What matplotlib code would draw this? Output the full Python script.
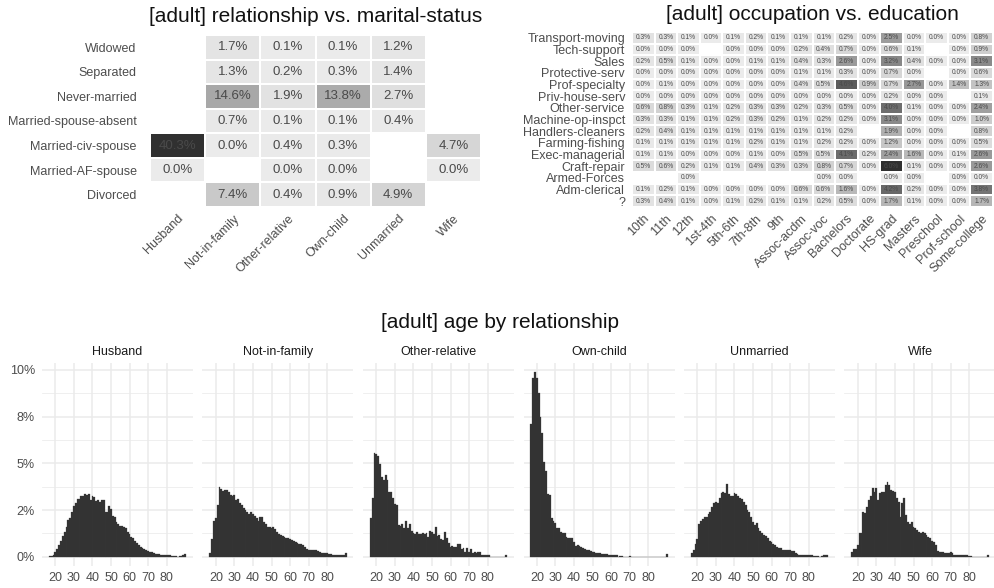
import numpy as np
import matplotlib
matplotlib.use('Agg')
import matplotlib.pyplot as plt
from matplotlib.colors import LinearSegmentedColormap
from matplotlib.ticker import FixedLocator

plt.rcParams['font.family'] = ['Liberation Sans', 'DejaVu Sans']

# ---------------- data: relationship vs marital-status (% of total) ----------------
relationships = ['Husband', 'Not-in-family', 'Other-relative', 'Own-child', 'Unmarried', 'Wife']
marital = ['Divorced', 'Married-AF-spouse', 'Married-civ-spouse', 'Married-spouse-absent',
           'Never-married', 'Separated', 'Widowed']  # bottom -> top
nan = np.nan
rm_divorced = [nan, 7.4, 0.4, 0.9, 4.9, nan]
rm_af_spouse = [0.0, nan, 0.0, 0.0, nan, 0.0]
rm_civ_spouse = [40.3, 0.0, 0.4, 0.3, nan, 4.7]
rm_spouse_absent = [nan, 0.7, 0.1, 0.1, 0.4, nan]
rm_never = [nan, 14.6, 1.9, 13.8, 2.7, nan]
rm_separated = [nan, 1.3, 0.2, 0.3, 1.4, nan]
rm_widowed = [nan, 1.7, 0.1, 0.1, 1.2, nan]

# ---------------- data: occupation vs education (% of total) ----------------
education = ['10th', '11th', '12th', '1st-4th', '5th-6th', '7th-8th', '9th', 'Assoc-acdm',
             'Assoc-voc', 'Bachelors', 'Doctorate', 'HS-grad', 'Masters', 'Preschool',
             'Prof-school', 'Some-college']
occupations = ['?', 'Adm-clerical', 'Armed-Forces', 'Craft-repair', 'Exec-managerial',
               'Farming-fishing', 'Handlers-cleaners', 'Machine-op-inspct', 'Other-service',
               'Priv-house-serv', 'Prof-specialty', 'Protective-serv', 'Sales',
               'Tech-support', 'Transport-moving']  # bottom -> top
oe_unknown = [0.3, 0.4, 0.1, 0.0, 0.1, 0.2, 0.1, 0.1, 0.2, 0.5, 0.0, 1.7, 0.1, 0.0, 0.0, 1.7]
oe_adm = [0.1, 0.2, 0.1, 0.0, 0.0, 0.0, 0.0, 0.6, 0.6, 1.6, 0.0, 4.2, 0.2, 0.0, 0.0, 3.8]
oe_armed = [nan, nan, 0.0, nan, nan, nan, nan, nan, 0.0, 0.0, nan, 0.0, 0.0, nan, 0.0, 0.0]
oe_craft = [0.5, 0.6, 0.2, 0.1, 0.1, 0.4, 0.3, 0.3, 0.8, 0.7, 0.0, 6.0, 0.1, 0.0, 0.0, 2.6]
oe_exec = [0.1, 0.1, 0.0, 0.0, 0.0, 0.1, 0.0, 0.5, 0.5, 4.1, 0.2, 2.4, 1.6, 0.0, 0.1, 2.6]
oe_farming = [0.1, 0.1, 0.1, 0.1, 0.1, 0.2, 0.1, 0.1, 0.2, 0.2, 0.0, 1.2, 0.0, 0.0, 0.0, 0.5]
oe_handlers = [0.2, 0.4, 0.1, 0.1, 0.1, 0.1, 0.1, 0.1, 0.1, 0.2, nan, 1.9, 0.0, 0.0, nan, 0.8]
oe_machine = [0.3, 0.3, 0.1, 0.1, 0.2, 0.3, 0.2, 0.1, 0.2, 0.2, 0.0, 3.1, 0.0, 0.0, 0.0, 1.0]
oe_other = [0.6, 0.8, 0.3, 0.1, 0.2, 0.3, 0.3, 0.2, 0.3, 0.5, 0.0, 4.0, 0.1, 0.0, 0.0, 2.4]
oe_privhouse = [0.0, 0.0, 0.0, 0.0, 0.0, 0.0, 0.0, 0.0, 0.0, 0.0, 0.0, 0.2, 0.0, 0.0, nan, 0.1]
oe_prof = [0.0, 0.1, 0.0, 0.0, 0.0, 0.0, 0.0, 0.4, 0.5, 4.6, 0.9, 0.7, 2.7, 0.0, 1.4, 1.3]
oe_protective = [0.0, 0.0, 0.0, 0.0, 0.0, 0.0, 0.0, 0.1, 0.1, 0.3, 0.0, 0.7, 0.0, nan, 0.0, 0.6]
oe_sales = [0.2, 0.5, 0.1, 0.0, 0.0, 0.1, 0.1, 0.4, 0.3, 2.6, 0.0, 3.2, 0.4, 0.0, 0.0, 3.1]
oe_tech = [0.0, 0.0, 0.0, nan, 0.0, 0.0, 0.0, 0.2, 0.4, 0.7, 0.0, 0.6, 0.1, nan, 0.0, 0.9]
oe_transport = [0.3, 0.3, 0.1, 0.0, 0.1, 0.2, 0.1, 0.1, 0.1, 0.2, 0.0, 2.5, 0.0, 0.0, 0.0, 0.8]

# ---------------- data: age histogram by relationship (% within group, ages 17..90) ----------------
ages = list(range(17, 91))
age_husband = [0.05, 0.05, 0.12, 0.23, 0.4, 0.62, 0.86, 1.1, 1.34, 1.6, 1.96, 2.1, 2.4, 2.73,
               2.9, 3.07, 3.07, 3.25, 3.27, 3.34, 3.3, 3.37, 3.05, 3.25,
               3.18, 3.0, 3.05, 2.95, 3.05, 3.04, 2.37, 2.4, 2.71, 2.54,
               2.2, 2.14, 1.87, 1.75, 1.64, 1.64, 1.6, 1.52, 1.34, 1.21,
               1.07, 0.98, 0.84, 0.73, 0.62, 0.52, 0.45, 0.4, 0.34, 0.3,
               0.27, 0.23, 0.18, 0.16, 0.16, 0.14, 0.12, 0.1, 0.1, 0.09,
               0.09, 0.07, 0.05, 0.05, 0.05, 0.0, 0.05, 0.05, 0.1, 0.16]
age_notinfamily = [0.18, 0.95, 1.9, 2.05, 2.77, 3.71, 3.63, 3.52, 3.59, 3.55, 3.48, 3.3, 3.27, 3.3,
                   3.04, 3.07, 2.9, 2.77, 2.59, 2.5, 2.37, 2.29, 2.37, 2.3,
                   2.2, 2.05, 1.93, 2.14, 2.14, 1.87, 1.73, 1.57, 1.6, 1.52,
                   1.59, 1.46, 1.34, 1.21, 1.16, 1.12, 1.07, 1.02, 0.98, 0.95,
                   0.89, 0.84, 0.8, 0.75, 0.71, 0.68, 0.62, 0.54, 0.41, 0.34,
                   0.34, 0.34, 0.34, 0.36, 0.32, 0.27, 0.21, 0.2, 0.18, 0.18,
                   0.14, 0.14, 0.12, 0.1, 0.1, 0.09, 0.09, 0.09, 0.09, 0.2]
age_otherrel = [2.05, 3.16, 5.57, 5.48, 5.41, 4.95, 4.29, 4.11, 4.38, 4.11, 3.48, 3.48, 3.13, 2.8,
                2.77, 1.7, 1.66, 1.73, 1.52, 1.91, 1.55, 1.73, 1.39, 1.29,
                1.23, 1.3, 1.2, 1.2, 1.29, 1.23, 1.25, 1.07, 1.38, 1.34,
                1.2, 1.59, 1.12, 1.16, 0.95, 0.89, 1.3, 0.98, 0.75, 0.54,
                0.55, 0.52, 0.52, 0.71, 0.71, 0.41, 0.48, 0.27, 0.45, 0.27,
                0.39, 0.21, 0.27, 0.18, 0.23, 0.23, 0.12, 0.12, 0.12, 0.12,
                0.12, 0.0, 0.0, 0.0, 0.0, 0.0, 0.0, 0.0, 0.0, 0.12]
age_ownchild = [7.09, 9.59, 9.88, 9.59, 8.75, 7.5, 6.61, 5.09, 4.59, 3.34, 3.3, 2.09, 1.93, 1.79,
                1.55, 1.52, 1.34, 1.29, 1.25, 1.07, 0.98, 1.02, 0.98, 0.77,
                0.59, 0.62, 0.59, 0.54, 0.48, 0.39, 0.34, 0.34, 0.3, 0.27,
                0.27, 0.21, 0.18, 0.18, 0.16, 0.16, 0.14, 0.14, 0.12, 0.12,
                0.1, 0.1, 0.09, 0.0, 0.05, 0.05, 0.0, 0.0, 0.0, 0.05,
                0.0, 0.0, 0.0, 0.0, 0.0, 0.0, 0.0, 0.0, 0.0, 0.0,
                0.0, 0.0, 0.0, 0.0, 0.0, 0.0, 0.0, 0.0, 0.0, 0.14]
age_unmarried = [0.21, 0.36, 0.66, 0.93, 1.73, 1.91, 2.02, 2.14, 2.11, 2.29, 2.41, 2.68, 2.89, 2.91,
                 2.86, 3.13, 3.39, 3.48, 3.39, 3.88, 3.36, 3.27, 3.25, 3.39,
                 3.36, 3.27, 3.16, 3.09, 2.91, 2.77, 2.5, 2.41, 2.14, 1.88,
                 1.7, 1.79, 1.52, 1.38, 1.29, 1.16, 1.11, 0.98, 0.86, 0.77,
                 0.71, 0.62, 0.54, 0.48, 0.45, 0.36, 0.36, 0.36, 0.36, 0.36,
                 0.32, 0.32, 0.21, 0.14, 0.12, 0.12, 0.12, 0.12, 0.12, 0.09,
                 0.09, 0.09, 0.05, 0.05, 0.05, 0.0, 0.05, 0.09, 0.09, 0.09]
age_wife = [0.27, 0.39, 0.41, 0.62, 1.25, 1.25, 2.38, 2.32, 2.68, 3.04, 3.25, 3.7, 3.45, 3.7,
            3.04, 3.39, 3.45, 3.45, 3.84, 4.02, 3.84, 3.57, 3.52, 3.48,
            3.13, 2.95, 2.14, 2.89, 3.13, 2.23, 1.84, 1.73, 1.88, 1.61,
            1.52, 1.43, 1.34, 1.25, 1.3, 1.25, 1.16, 1.07, 0.98, 0.84,
            0.8, 0.62, 0.3, 0.27, 0.27, 0.23, 0.18, 0.18, 0.21, 0.23,
            0.21, 0.12, 0.12, 0.09, 0.09, 0.09, 0.09, 0.09, 0.09, 0.05,
            0.05, 0.0, 0.0, 0.0, 0.0, 0.0, 0.0, 0.0, 0.0, 0.09]
age_ticks = [20, 30, 40, 50, 60, 70, 80]
pct_ticks = [0, 2.5, 5, 7.5, 10]
pct_labels = ['0%', '2%', '5%', '8%', '10%']

# ---------------- figure ----------------
W, H = 995, 588
fig = plt.figure(figsize=(W / 100, H / 100), dpi=100)
fig.patch.set_facecolor('white')


def ax_px(x0, y0, x1, y1):
    return fig.add_axes([x0 / W, 1 - y1 / H, (x1 - x0) / W, (y1 - y0) / H])


cmap = LinearSegmentedColormap.from_list('g', ['#ebebeb', '#303030'])
TICK_C = '#4d4d4d'
TEXT_C = '#4a4a4a'


def heatmap(ax, data, xlabels, ylabels, fs_cell, fs_tick, ypad, edge_lw):
    arr = np.ma.masked_invalid(np.array(data, dtype=float))
    ax.pcolormesh(np.arange(len(xlabels) + 1), np.arange(len(ylabels) + 1), arr,
                  cmap=cmap, vmin=0, vmax=np.nanmax(np.array(data, dtype=float)),
                  edgecolors='white', linewidth=edge_lw)
    for i in range(arr.shape[0]):
        for j in range(arr.shape[1]):
            if not arr.mask[i, j]:
                ax.text(j + 0.5, i + 0.5, f'{arr[i, j]:.1f}%', ha='center', va='center',
                        fontsize=fs_cell, color=TEXT_C)
    ax.set_xlim(0, len(xlabels))
    ax.set_ylim(0, len(ylabels))
    ax.set_xticks(np.arange(len(xlabels)) + 0.5)
    ax.set_xticklabels(xlabels, rotation=45, ha='right', va='top', rotation_mode='anchor',
                       fontsize=fs_tick, color=TICK_C)
    ax.set_yticks(np.arange(len(ylabels)) + 0.5)
    ax.set_yticklabels(ylabels, fontsize=fs_tick, color=TICK_C)
    ax.tick_params(length=0, axis='y', pad=ypad)
    ax.tick_params(length=0, axis='x', pad=4)
    for s in ax.spines.values():
        s.set_visible(False)


# left heatmap
ax1 = ax_px(150, 35, 481, 207)
rm_data = [rm_divorced, rm_af_spouse, rm_civ_spouse, rm_spouse_absent, rm_never,
           rm_separated, rm_widowed]
heatmap(ax1, rm_data, relationships, marital, 9.5, 9, 9.5, 0.3)
fig.text(315.5 / W, 1 - 16 / H, '[adult] relationship vs. marital-status', ha='center',
         va='center', fontsize=15, color='#111111')

# right heatmap
ax2 = ax_px(632, 32, 993, 207)
oe_data = [oe_unknown, oe_adm, oe_armed, oe_craft, oe_exec, oe_farming, oe_handlers,
           oe_machine, oe_other, oe_privhouse, oe_prof, oe_protective, oe_sales, oe_tech,
           oe_transport]
heatmap(ax2, oe_data, education, occupations, 4.8, 9, 5, 0.15)
fig.text(812 / W, 1 - 15 / H, '[adult] occupation vs. education', ha='center',
         va='center', fontsize=15, color='#111111')

# histograms
fig.text(500 / W, 1 - 322 / H, '[adult] age by relationship', ha='center', va='center',
         fontsize=15, color='#111111')
series = [age_husband, age_notinfamily, age_otherrel, age_ownchild, age_unmarried, age_wife]
for k, (name, vals) in enumerate(zip(relationships, series)):
    assert len(vals) == len(ages)
    x0 = 42 + k * 160.5
    ax = ax_px(x0, 363, x0 + 151, 566)
    ax.set_xlim(12.8, 94.2)
    ax.set_ylim(-0.494, 10.37)
    ax.yaxis.set_major_locator(FixedLocator(pct_ticks))
    ax.yaxis.set_minor_locator(FixedLocator([1.25, 3.75, 6.25, 8.75]))
    ax.set_xticks(age_ticks)
    ax.grid(True, which='major', color='#ebebeb', linewidth=1.1)
    ax.grid(True, which='minor', axis='y', color='#ebebeb', linewidth=0.55)
    ax.set_axisbelow(True)
    ax.bar(ages, vals, width=1.0, color='#333333', edgecolor='#3a3a3a', linewidth=0.2)
    ax.tick_params(which='both', length=0, labelsize=9, colors=TICK_C, pad=4)
    if k == 0:
        ax.set_yticklabels(pct_labels)
        ax.tick_params(axis='y', pad=5)
    else:
        ax.set_yticklabels([])
    for s in ax.spines.values():
        s.set_visible(False)
    ax.set_title(name, fontsize=9, color='#1a1a1a', pad=6)

fig.savefig('out.png', dpi=100, facecolor='white')
